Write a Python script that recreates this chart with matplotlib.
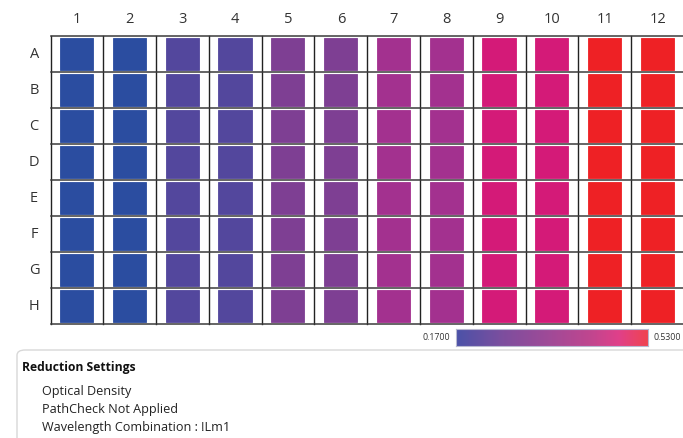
import numpy as np
import matplotlib
matplotlib.use("Agg")
import matplotlib.pyplot as plt
from matplotlib.patches import Rectangle, FancyBboxPatch
from matplotlib.colors import LinearSegmentedColormap, Normalize

plt.rcParams['font.family'] = ['Open Sans', 'DejaVu Sans']

columns = [str(i) for i in range(1, 13)]
rows = ["A", "B", "C", "D", "E", "F", "G", "H"]
# optical density per column (same for all rows)
col_values = [0.17, 0.17, 0.23, 0.23, 0.29, 0.29, 0.35, 0.35, 0.43, 0.43, 0.53, 0.53]
values = np.array([col_values for _ in rows])
vmin, vmax = 0.17, 0.53
settings_title = "Reduction Settings"
settings_lines = ["Optical Density", "PathCheck Not Applied", "Wavelength Combination : !Lm1"]

well_cmap = LinearSegmentedColormap.from_list(
    "wells",
    [(0.0, "#2B4DA0"), (0.1667, "#53479D"), (0.3333, "#7E3F93"),
     (0.5, "#A3318F"), (0.7222, "#D41A78"), (1.0, "#EE2125")])
bar_cmap = LinearSegmentedColormap.from_list(
    "bar",
    [(0.0, "#4B52A8"), (0.25, "#7E4E9E"), (0.5, "#A24A97"),
     (0.7, "#C0468F"), (0.85, "#E0408A"), (1.0, "#F04450")])
norm = Normalize(vmin, vmax)

W, H = 683, 438
fig = plt.figure(figsize=(W / 100, H / 100), dpi=100)
fig.patch.set_facecolor("white")

def fx(px):
    return px / W

def fy(py):
    return 1 - py / H

left, right, top, bottom = 50.5, 684.0, 36.0, 324.0
ax = fig.add_axes([fx(left), fy(bottom), (right - left) / W, (bottom - top) / H])
ax.set_xlim(0, 12)
ax.set_ylim(8, 0)
ax.axis("off")

wx0, ww = 0.18, 0.63
wy0, wh = 0.055, 0.89
for r in range(len(rows)):
    for c in range(len(columns)):
        col = well_cmap(norm(values[r, c]))
        ax.add_patch(Rectangle((c + wx0, r + wy0), ww, wh, facecolor=col,
                               edgecolor=col, linewidth=0.6, zorder=2))

for c in range(13):
    ax.plot([c, c], [0, 8], color="#222222", lw=1.0, zorder=3, clip_on=False)
for r in range(9):
    ax.plot([0, 12], [r, r], color="#3a3a3a", lw=1.1, zorder=3, clip_on=False)

for c, lab in enumerate(columns):
    ax.text(c + 0.5, -0.45, lab, ha="center", va="center", fontsize=10.5, color="#333333")
for r, lab in enumerate(rows):
    ax.text(-0.31, r + 0.5, lab, ha="center", va="center", fontsize=10.5, color="#333333")

# colorbar
cax = fig.add_axes([fx(456), fy(346), (648 - 456) / W, (346 - 329) / H])
grad = np.linspace(vmin, vmax, 256).reshape(1, -1)
cax.imshow(grad, aspect="auto", cmap=bar_cmap, norm=norm,
           extent=[vmin, vmax, 0, 1])
cax.set_xticks([])
cax.set_yticks([])
for s in cax.spines.values():
    s.set_color("#b8b8d0")
    s.set_linewidth(0.8)
fig.text(fx(450), fy(338), f"{vmin:.4f}", ha="right", va="center", fontsize=6.3, color="#333333")
fig.text(fx(654), fy(338), f"{vmax:.4f}", ha="left", va="center", fontsize=6.3, color="#333333")

# settings panel
panel = FancyBboxPatch((fx(17), fy(445)), fx(700), (445 - 350) / H,
                       boxstyle="round,pad=0,rounding_size=0.012",
                       transform=fig.transFigure, facecolor="white",
                       edgecolor="#d8d8d8", linewidth=1.0, clip_on=False)
fig.patches.append(panel)
fig.text(fx(22), fy(367), settings_title, ha="left", va="center",
         fontsize=8.7, fontweight="bold", color="#111111")
for i, line in enumerate(settings_lines):
    fig.text(fx(42), fy(392 + i * 17.5), line, ha="left", va="center",
             fontsize=9.1, color="#222222")

fig.savefig("out.png", dpi=100, facecolor="white")
